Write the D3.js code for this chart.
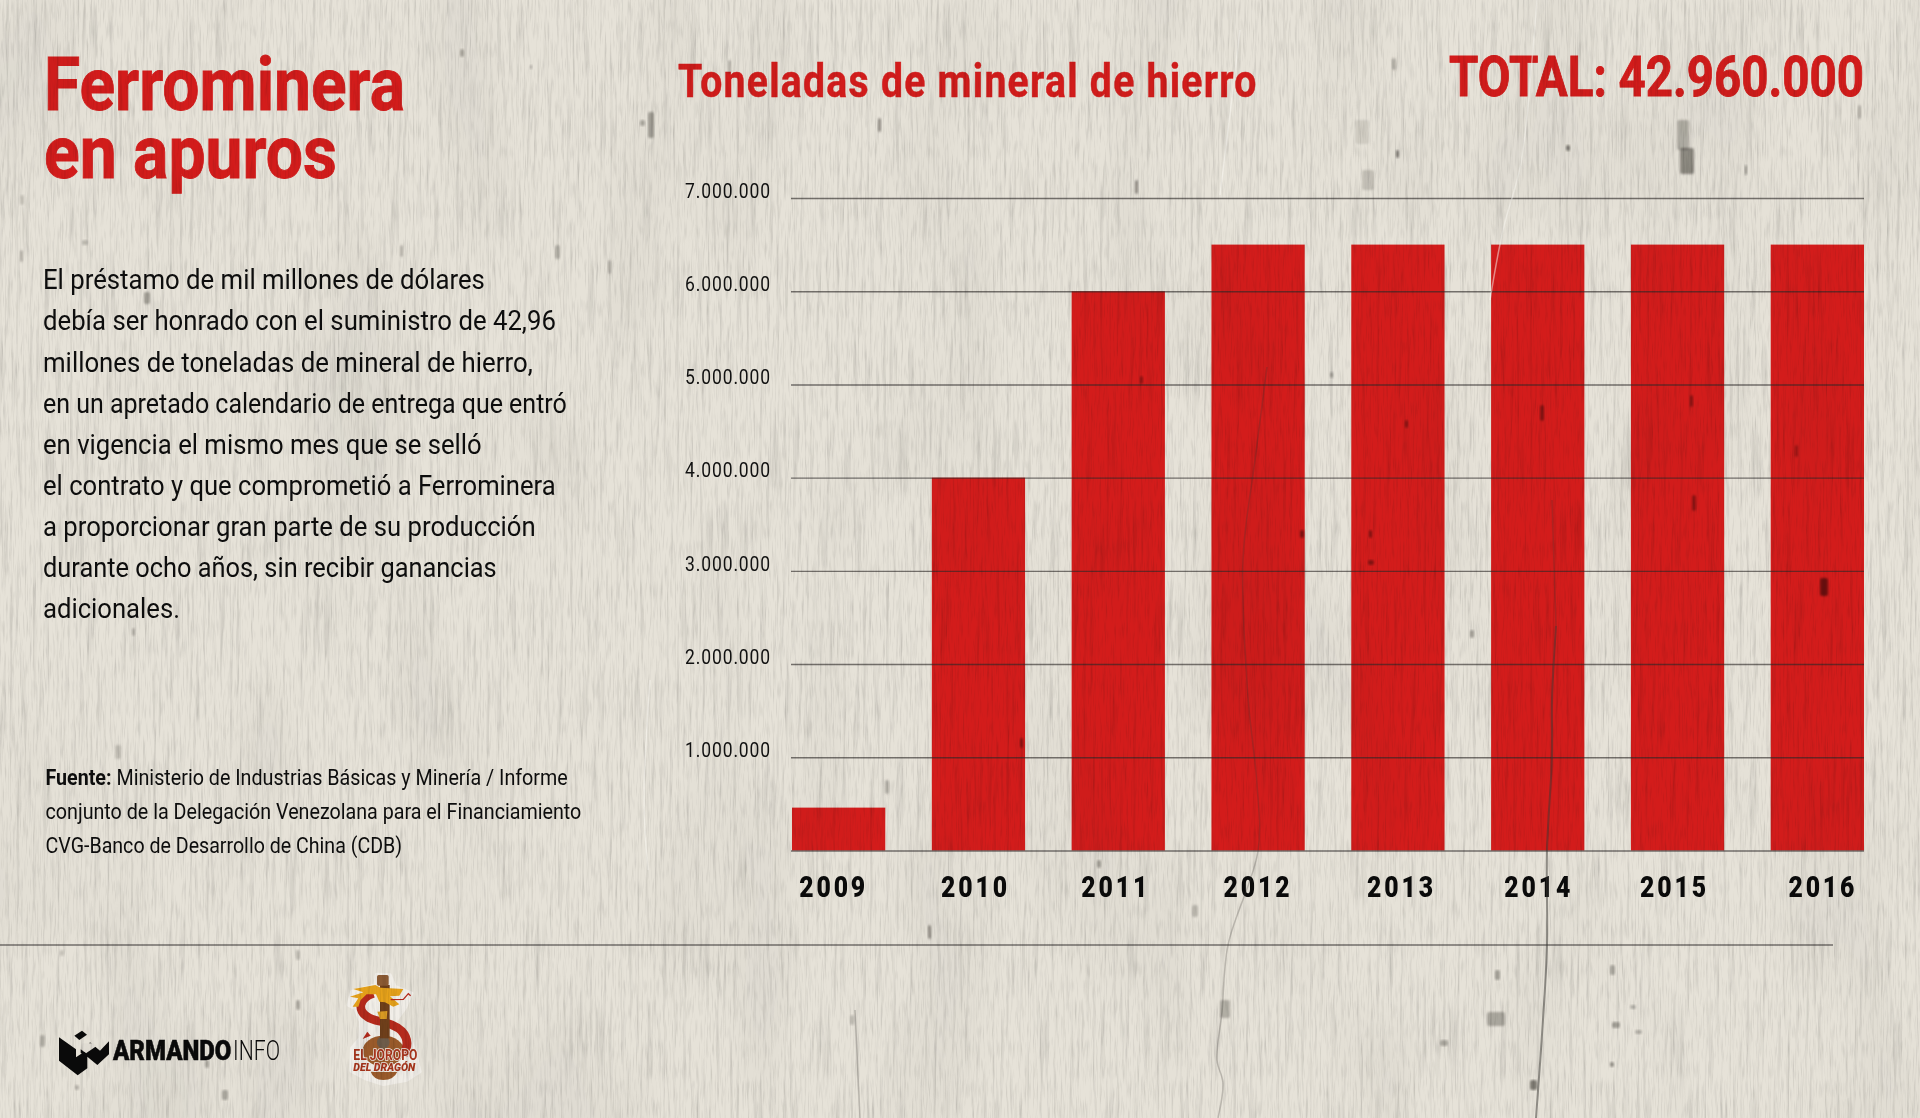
<!DOCTYPE html>
<html>
<head>
<meta charset="utf-8">
<title>Ferrominera en apuros</title>
<script src="https://cdn.jsdelivr.net/npm/d3@7"></script>
<style>
  html, body { margin: 0; padding: 0; background: #e4e0d7; }
  svg { display: block; }
  text { font-family: Roboto, sans-serif; }
</style>
</head>
<body>
<div id="chart"></div>
<script>
// Data
let years = ['2009','2010','2011','2012','2013','2014','2015','2016'];
let tonnes = [460000,4000000,6000000,6500000,6500000,6500000,6500000,6500000];
let y_ticks = [0,1000000,2000000,3000000,4000000,5000000,6000000,7000000];
let year_nudge = [-5,-3,-2.5,0,3.5,1,-3,5.5];

let body_lines = [
    'El préstamo de mil millones de dólares',
    'debía ser honrado con el suministro de 42,96',
    'millones de toneladas de mineral de hierro,',
    'en un apretado calendario de entrega que entró',
    'en vigencia el mismo mes que se selló',
    'el contrato y que comprometió a Ferrominera',
    'a proporcionar gran parte de su producción',
    'durante ocho años, sin recibir ganancias',
    'adicionales.'
];
let body_widths = [442,513,490,524,439,513,493,454,137];

let source_lines = [
    'Ministerio de Industrias Básicas y Minería / Informe',
    'conjunto de la Delegación Venezolana para el Financiamiento',
    'CVG-Banco de Desarrollo de China (CDB)'
];

// Paper dirt: x, y, w, h, opacity
let specks = [
    [1677,120,12,30,.3],[1680,148,14,26,.5],[1355,120,14,24,.12],[1362,170,12,20,.2],
    [648,112,6,26,.4],[728,60,3,14,.3],[878,118,3,14,.5],[1135,180,3,14,.5],[1392,58,4,12,.3],
    [1396,150,3,8,.6],[1566,145,4,6,.6],[1745,165,2,10,.5],[1858,105,3,14,.3],
    [1820,578,8,18,.65],[1405,420,3,8,.5],[1540,405,4,16,.5],[1690,395,3,12,.5],
    [1692,495,4,16,.45],[1795,445,3,12,.4],[1140,376,3,8,.45],[1300,530,4,8,.55],[1369,530,3,8,.55],
    [1368,560,6,5,.5],[1330,372,3,6,.4],[1470,630,4,8,.4],[1020,738,3,10,.5],[1097,860,4,8,.4],
    [885,780,4,14,.3],[928,925,3,14,.5],[1192,905,6,12,.25],[1610,965,5,10,.35],[1612,1022,8,6,.4],
    [1487,1012,18,14,.35],[1220,1000,10,18,.3],[1495,970,5,10,.4],[1610,1062,4,5,.5],
    [1530,1080,7,10,.6],[1440,1040,8,6,.35],[1630,1005,6,4,.3],[1635,1030,7,4,.3],
    [296,1000,4,10,.35],[40,1035,5,12,.3],[205,1060,4,8,.35],[222,1090,6,10,.35],[75,1085,4,5,.3],
    [144,292,6,12,.4],[82,240,6,5,.25],[20,250,3,12,.3],[400,245,3,12,.3],[555,245,5,14,.3],
    [608,260,3,14,.3],[460,49,4,8,.35],[530,65,2,4,.4],[115,745,6,14,.2],[132,628,3,8,.3],
    [296,950,4,10,.25],[850,1015,4,10,.25],[640,120,5,6,.35],[20,195,4,10,.2],[60,950,4,6,.2]
];
let dark_cracks = [
    [[1556,626],[1552,700],[1552,756],[1547,851],[1547,945],[1543,1020],[1536,1118]]
];
let faint_cracks = [
    [[1267,367],[1255,460],[1243,559],[1248,697],[1257,784],[1258,851],[1228,945],[1222,1012],[1217,1060],[1223,1083],[1218,1118]],
    [[1552,500],[1556,626]],
    [[855,1010],[860,1118]]
];
let light_cracks = [
    [[1537,0],[1532,60],[1521,163],[1503,230],[1490,300]],
    [[1240,30],[1228,130],[1220,195]],
    [[650,680],[644,800],[648,870]]
];

let chart_width = 1920;
let chart_height = 1118;
let red = '#d31c1b';

let svg = d3.select('#chart')
    .append('svg')
    .attr('width', chart_width)
    .attr('height', chart_height);

// Paper filters
let defs = svg.append('defs');

function add_grain(id, freq, octaves, seed, gain, offset) {
    let f = defs.append('filter')
        .attr('id', id)
        .attr('x', 0).attr('y', 0).attr('width', '100%').attr('height', '100%')
        .attr('color-interpolation-filters', 'sRGB');
    f.append('feTurbulence')
        .attr('type', 'fractalNoise')
        .attr('baseFrequency', freq)
        .attr('numOctaves', octaves)
        .attr('seed', seed);
    let row = gain + ' 0 0 0 ' + offset;
    f.append('feColorMatrix')
        .attr('type', 'matrix')
        .attr('values', row + ' ' + row + ' ' + row + ' 0 0 0 0 1');
}
add_grain('streaks', '0.3 0.012', 3, 4, 0.28, 0.86);
add_grain('mottle', '0.01 0.004', 2, 9, 0.1, 0.95);
add_grain('fine', '0.6 0.05', 2, 2, 0.22, 0.89);
defs.append('filter').attr('id', 'soft')
    .append('feGaussianBlur').attr('stdDeviation', 0.8);

svg.append('rect')
    .attr('width', chart_width)
    .attr('height', chart_height)
    .attr('fill', '#e6e2d8');

// Scales
let x_scale = d3.scaleBand()
    .domain(years)
    .range([792, 1864])
    .paddingInner(0.333)
    .paddingOuter(0);

let y_scale = d3.scaleLinear()
    .domain([0, 7000000])
    .range([850.5, 198]);

let number_format = d3.formatLocale({
    decimal: ',', thousands: '.', grouping: [3], currency: ['', '']
}).format(',d');

// Squeezes a text to the given width, no condensed Roboto is installed
function fit(text_el, width) {
    let natural = text_el.getComputedTextLength();
    if (!natural) return;
    let x = +text_el.getAttribute('x') || 0;
    let y = +text_el.getAttribute('y') || 0;
    text_el.setAttribute('x', 0);
    text_el.setAttribute('y', 0);
    text_el.setAttribute('transform', 'translate(' + x + ',' + y + ') scale(' + (width / natural) + ',1)');
}

// Bars
svg.selectAll('rect.bar')
    .data(tonnes)
    .enter()
    .append('rect')
    .attr('class', 'bar')
    .attr('x', function(d, i) { return x_scale(years[i]); })
    .attr('y', function(d) { return y_scale(d); })
    .attr('width', x_scale.bandwidth())
    .attr('height', function(d) { return y_scale(0) - y_scale(d); })
    .attr('fill', red);

// Y axis with gridlines running across the bars
let y_axis = d3.axisLeft(y_scale)
    .tickValues(y_ticks)
    .tickSize(-(1864 - 791))
    .tickPadding(20)
    .tickFormat(function(d) { return d === 0 ? '' : number_format(d); });

let y_g = svg.append('g')
    .attr('transform', 'translate(791,0)')
    .call(y_axis);
y_g.select('.domain').remove();
y_g.selectAll('line')
    .attr('stroke', '#2b2926')
    .attr('stroke-opacity', 0.62)
    .attr('stroke-width', 1.4);
y_g.selectAll('text')
    .attr('y', -0.7)
    .attr('dy', 0)
    .attr('font-size', 20)
    .attr('fill', '#111')
    .style('letter-spacing', '1px')
    .each(function() { fit(this, 86); });

// X axis
let x_axis = d3.axisBottom(x_scale).tickSize(0).tickPadding(0);
let x_g = svg.append('g')
    .attr('transform', 'translate(0,850.5)')
    .call(x_axis);
x_g.select('.domain').remove();
x_g.selectAll('text')
    .attr('x', function(d, i) { return year_nudge[i]; })
    .attr('y', 46.5)
    .attr('dy', 0)
    .attr('font-size', 30)
    .attr('font-weight', 900)
    .attr('fill', '#0a0a0a')
    .style('letter-spacing', '3.5px')
    .each(function() { fit(this, 69); });

// Headings
function squeezed(x, y, str, size, weight, fill, width, spacing) {
    let t = svg.append('text')
        .attr('x', x)
        .attr('y', y)
        .attr('font-size', size)
        .attr('font-weight', weight)
        .attr('fill', fill)
        .style('letter-spacing', (spacing || 0) + 'px')
        .text(str);
    fit(t.node(), width);
    return t;
}
squeezed(44, 110, 'Ferrominera', 75, 700, red, 361).attr('stroke', red).attr('stroke-width', 0.9);
squeezed(44, 178, 'en apuros', 75, 700, red, 293).attr('stroke', red).attr('stroke-width', 0.9);
squeezed(678, 97, 'Toneladas de mineral de hierro', 46, 700, red, 580, 1.5).attr('stroke', red).attr('stroke-width', 0.5);
squeezed(1449, 96, 'TOTAL: 42.960.000', 55, 700, red, 415).attr('stroke', red).attr('stroke-width', 0.9);

// Body text
body_lines.forEach(function(line, i) {
    squeezed(43, 289.3 + i * 41.1, line, 27, 400, '#0d0d0d', body_widths[i]);
});

// Source
squeezed(45.5, 785, 'Fuente:', 22, 700, '#0d0d0d', 66);
squeezed(116.5, 785, source_lines[0], 22, 400, '#0d0d0d', 451.5);
squeezed(45.5, 819, source_lines[1], 22, 400, '#0d0d0d', 536);
squeezed(45.5, 853, source_lines[2], 22, 400, '#0d0d0d', 357);

// Footer rule
svg.append('line')
    .attr('x1', 0).attr('x2', 1833)
    .attr('y1', 945).attr('y2', 945)
    .attr('stroke', '#2b2926')
    .attr('stroke-opacity', 0.62)
    .attr('stroke-width', 1.4);

// Armando.info logo
let emblem = svg.append('g')
    .attr('transform', 'translate(40,1010) scale(0.3333)')
    .attr('fill', '#0a0a0a');
emblem.append('path')
    .attr('d', 'M57,82 L108,118 L108,142 L132,126 L150,97 L180,122 L207,94 L207,133 L172,165 L142,140 L142,175 L113,196 L57,152 Z');
emblem.append('path')
    .attr('d', 'M103,77 L126,62 L141,74 L118,90 Z');
emblem.append('path')
    .attr('d', 'M128,100 L160,100 L170,108 L138,130 L122,118 Z')
    .attr('fill', '#e0dcd3');
emblem.append('path')
    .attr('d', 'M122,118 L138,130 L138,140 L122,128 Z');
squeezed(113, 1060, 'ARMANDO', 27, 900, '#0a0a0a', 118.5).attr('stroke', '#0a0a0a').attr('stroke-width', 0.5);
squeezed(233, 1060, 'INFO', 27, 300, '#0a0a0a', 47);

// El Joropo del Dragon sticker
let sticker = svg.append('g')
    .attr('transform', 'translate(340,965) scale(0.3333)');
sticker.append('path')
    .attr('d', 'M110,28 L150,30 L165,65 L215,85 L195,130 L165,170 L205,210 L222,250 L240,320 L200,345 L130,358 L75,340 L33,318 L35,250 L60,220 L62,170 L45,130 L25,120 L35,80 L105,60 Z')
    .attr('fill', '#f1eee8')
    .attr('stroke', '#f1eee8')
    .attr('stroke-width', 10)
    .attr('stroke-linejoin', 'round');
sticker.append('ellipse').attr('cx', 130).attr('cy', 258).attr('rx', 62).attr('ry', 46).attr('fill', '#9a5a2a');
sticker.append('path').attr('d', 'M92,320 L172,320 Q162,344 130,345 Q100,344 92,320 Z').attr('fill', '#9a5a2a');
sticker.append('path')
    .attr('d', 'M100,85 C55,100 52,138 82,155 C105,172 155,168 185,198 C205,220 205,245 190,270')
    .attr('fill', 'none')
    .attr('stroke', '#b62a1c')
    .attr('stroke-width', 26);
sticker.append('circle').attr('cx', 130).attr('cy', 232).attr('r', 19).attr('fill', '#6e5c4a');
sticker.append('rect').attr('x', 120).attr('y', 60).attr('width', 29).attr('height', 160).attr('fill', '#6f3f1a');
sticker.append('rect').attr('x', 111).attr('y', 30).attr('width', 35).attr('height', 32).attr('rx', 5).attr('fill', '#8b5a33');
sticker.append('path')
    .attr('d', 'M82,200 L68,222 L92,212 Z')
    .attr('fill', '#b62a1c');
sticker.append('path')
    .attr('d', 'M112,140 L142,138 L140,162 L120,162 Z')
    .attr('fill', '#d99a22');
sticker.append('path')
    .attr('d', 'M40,72 L106,60 L122,68 L190,72 L178,92 L150,94 L178,118 L160,125 L135,112 L118,110 L108,88 L80,88 L62,105 L55,125 L38,125 L55,100 L30,95 L70,82 Z')
    .attr('fill', '#e5a11a');
sticker.append('path')
    .attr('d', 'M152,104 L190,103 L205,86 L212,92')
    .attr('fill', 'none')
    .attr('stroke', '#b62a1c')
    .attr('stroke-width', 4);

function sticker_text(x, y, str, size, weight, italic, width) {
    let t = sticker.append('text')
        .attr('x', x - width / 2).attr('y', y)
        .attr('font-size', size)
        .attr('font-weight', weight)
        .attr('font-style', italic ? 'italic' : 'normal')
        .attr('fill', '#a8341b')
        .attr('stroke', '#f1eee8')
        .attr('stroke-width', 5)
        .attr('paint-order', 'stroke')
        .text(str);
    fit(t.node(), width);
}
sticker_text(136, 286, 'EL JOROPO', 42, 700, false, 192);
sticker_text(133, 319, 'DEL DRAGÓN', 34, 900, true, 186);

// Paper wear on top of everything
let line_path = d3.line().curve(d3.curveCatmullRom);

svg.selectAll('rect.dirt')
    .data(specks)
    .enter()
    .append('rect')
    .attr('class', 'dirt')
    .attr('x', function(d) { return d[0]; })
    .attr('y', function(d) { return d[1]; })
    .attr('width', function(d) { return d[2]; })
    .attr('height', function(d) { return d[3]; })
    .attr('rx', 2)
    .attr('fill', '#3c3a36')
    .attr('opacity', function(d) { return d[4]; })
    .attr('filter', 'url(#soft)')
    .style('mix-blend-mode', 'multiply');

function draw_cracks(list, name, colour, width, opacity) {
    svg.selectAll('path.' + name)
        .data(list)
        .enter()
        .append('path')
        .attr('class', name)
        .attr('d', line_path)
        .attr('fill', 'none')
        .attr('stroke', colour)
        .attr('stroke-width', width)
        .attr('stroke-opacity', opacity);
}
draw_cracks(dark_cracks, 'dark', '#3a3733', 2, 0.5);
draw_cracks(faint_cracks, 'faint', '#3a3733', 1.5, 0.25);
draw_cracks(light_cracks, 'light', '#fbf9f3', 1.5, 0.5);

['mottle', 'streaks', 'fine'].forEach(function(id) {
    svg.append('rect')
        .attr('width', chart_width)
        .attr('height', chart_height)
        .attr('filter', 'url(#' + id + ')')
        .style('mix-blend-mode', 'multiply');
});
</script>
</body>
</html>
